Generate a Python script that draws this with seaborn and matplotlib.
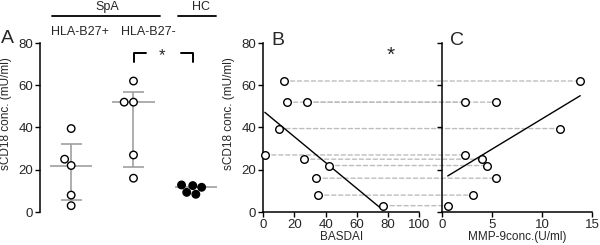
import numpy as np
import pandas as pd
import matplotlib
matplotlib.use("Agg")
import matplotlib.pyplot as plt
from matplotlib.patches import ConnectionPatch
import seaborn as sns

sns.set_theme(style="ticks")
plt.rcParams['font.family'] = ['Liberation Sans', 'DejaVu Sans']
plt.rcParams['axes.unicode_minus'] = False

# Panel A: sCD18 per group
groups = ["HLA-B27+", "HLA-B27-", "HC"]
b27_pos = [39.5, 25, 22, 8, 3]
b27_neg = [62, 52, 52, 27, 16]
hc = [11.7, 12.8, 8.4, 12.5, 9.3]

# Panels B/C: SpA patients (same order in both)
scd18 = [62, 52, 52, 39.5, 27, 25, 22, 16, 8, 3]
basdai = [13, 15, 28, 10, 1, 26, 42, 34, 35, 77]
mmp9 = [13.8, 2.3, 5.4, 11.8, 2.3, 4.0, 4.5, 5.4, 3.1, 0.6]

df_a = pd.DataFrame({
    "group": ["HLA-B27+"] * len(b27_pos) + ["HLA-B27-"] * len(b27_neg) + ["HC"] * len(hc),
    "value": b27_pos + b27_neg + hc,
})
df_bc = pd.DataFrame({"scd18": scd18, "basdai": basdai, "mmp9": mmp9})

W, H = 600, 245
fig = plt.figure(figsize=(6, 2.45), dpi=100)
bot = 1 - 212 / H
hgt = (212 - 43) / H
axA = fig.add_axes([40 / W, bot, 187 / W, hgt])
axB = fig.add_axes([263.3 / W, bot, 155.7 / W, hgt])
axC = fig.add_axes([441.7 / W, bot, 150.6 / W, hgt])

tick_fs = 9.5
ylab = "sCD18 conc. (mU/ml)"
grey = "#a0a0a0"

# ---- Panel A
sns.swarmplot(data=df_a, x="group", y="value", hue="group", order=groups,
              palette={"HLA-B27+": "white", "HLA-B27-": "white", "HC": "black"},
              edgecolor="black", linewidth=1, size=5.4, legend=False, ax=axA,
              zorder=3, clip_on=False)
for i, vals in enumerate([b27_pos, b27_neg, hc]):
    q1, med, q3 = np.percentile(vals, [25, 50, 75], method="weibull")
    axA.hlines(med, i - 0.34, i + 0.34, color=grey, lw=1.2, zorder=2)
    if i < 2:
        axA.vlines(i, q1, q3, color=grey, lw=1.2, zorder=2)
        axA.hlines([q1, q3], i - 0.17, i + 0.17, color=grey, lw=1.2, zorder=2)
axA.set_xlim(-0.5, 2.5)
axA.set_ylim(0, 80)
axA.set_yticks([0, 20, 40, 60, 80])
axA.set_xticks([])
axA.set_xlabel("")
axA.set_ylabel(ylab, fontsize=8.5)
axA.yaxis.set_label_coords(-0.15, 0.58)
sns.despine(ax=axA, bottom=True)

# group headers and bracket
axA.plot([-0.305, 1.433], [93, 93], color="black", lw=1.3, clip_on=False)
axA.plot([1.71, 2.32], [93, 93], color="black", lw=1.3, clip_on=False)
axA.text(0.578, 97.2, "SpA", ha="center", va="center", fontsize=9)
axA.text(2.08, 97.2, "HC", ha="center", va="center", fontsize=9)
axA.text(0.14, 85, "HLA-B27+", ha="center", va="center", fontsize=9)
axA.text(1.245, 85, "HLA-B27-", ha="center", va="center", fontsize=9)
axA.plot([1.005, 1.005, 1.204], [71, 75.5, 75.5], color="black", lw=1.4, clip_on=False)
axA.plot([1.77, 1.958, 1.958], [75.5, 75.5, 71], color="black", lw=1.4, clip_on=False)
axA.text(1.46, 74, "*", ha="center", va="center", fontsize=12)

# ---- Panel B
sns.scatterplot(data=df_bc, x="basdai", y="scd18", ax=axB, s=30, color="white",
                edgecolor="black", linewidth=1, zorder=3, clip_on=False)
sns.regplot(data=df_bc, x="basdai", y="scd18", ax=axB, scatter=False, ci=None,
            truncate=True, line_kws={"color": "black", "lw": 1})
axB.set_xlim(0, 100)
axB.set_ylim(0, 80)
axB.set_xticks([0, 20, 40, 60, 80, 100])
axB.set_yticks([0, 20, 40, 60, 80])
axB.set_xlabel("BASDAI", fontsize=8.5, labelpad=0)
axB.set_ylabel(ylab, fontsize=8.5)
axB.yaxis.set_label_coords(-0.182, 0.58)
axB.text(82, 74, "*", ha="center", va="center", fontsize=15)

# ---- Panel C
sns.scatterplot(data=df_bc, x="mmp9", y="scd18", ax=axC, s=30, color="white",
                edgecolor="black", linewidth=1, zorder=3, clip_on=False)
sns.regplot(data=df_bc, x="mmp9", y="scd18", ax=axC, scatter=False, ci=None,
            truncate=True, line_kws={"color": "black", "lw": 1})
axC.set_xlim(0, 15)
axC.set_ylim(0, 80)
axC.set_xticks([0, 5, 10, 15])
axC.set_yticks([0, 20, 40, 60, 80])
axC.set_yticklabels([])
axC.set_xlabel("MMP-9conc.(U/ml)", fontsize=8.5, labelpad=0)
axC.set_ylabel("")

for ax in (axA, axB, axC):
    ax.set_facecolor("none")
    ax.tick_params(labelsize=tick_fs, length=3.5, width=1, pad=1.5, color="black")
    for sp in ax.spines.values():
        sp.set_linewidth(1.1)
        sp.set_color("black")
    if ax is not axA:
        sns.despine(ax=ax)

# dashed links between the same patient in B and C
for b, m, y in zip(basdai, mmp9, scd18):
    con = ConnectionPatch(xyA=(b, y), coordsA=axB.transData,
                          xyB=(m, y), coordsB=axC.transData,
                          color="#bdbdbd", lw=1, linestyle=(0, (3, 2)), zorder=-1)
    fig.add_artist(con)

# panel letters
fig.text(1 / W, 1 - 43 / H, "A", fontsize=14, va="baseline")
fig.text(271 / W, 1 - 45 / H, "B", fontsize=14, va="baseline")
fig.text(450 / W, 1 - 45 / H, "C", fontsize=14, va="baseline")

fig.savefig("out.png", dpi=100)
